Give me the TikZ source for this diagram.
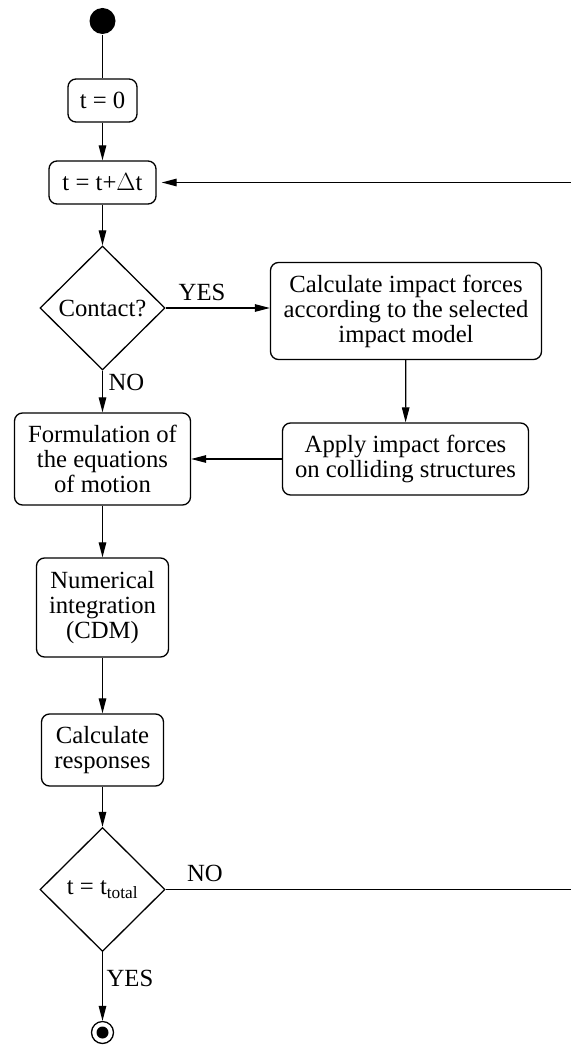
\documentclass[tikz,border=0pt]{standalone}
\usepackage{fontspec}
\setmainfont{Liberation Serif}
\usetikzlibrary{shapes.geometric,arrows.meta}
\begin{document}
\begin{tikzpicture}[x=1pt,y=-1pt,
  font=\fontsize{24.7}{25}\selectfont,
  >={Triangle[length=15pt,width=7.5pt]},
  line width=1.25pt,
  box/.style={draw,rounded corners=8pt,align=center,inner sep=0pt,line width=1.3pt},
  dec/.style={draw,diamond,aspect=1,inner sep=0pt,line width=1.3pt},
  lab/.style={inner sep=0pt},
  flow/.style={->}]
\useasboundingbox (0,0) rectangle (570,1048);
\node[circle,fill=black,minimum size=26pt,inner sep=0pt] (start) at (102.5,21) {};
\node[box,minimum width=69pt,minimum height=43pt] (t0) at (102.5,100.5) {t = 0};
\node[box,minimum width=107pt,minimum height=43pt] (tdt) at (102.5,182.5) {t = t+$\Delta$t};
\node[dec,minimum width=125pt,minimum height=124pt] (contact) at (102.5,308) {Contact?};
\node[box,minimum width=271pt,minimum height=97pt] (calc) at (406,311) {Calculate impact forces\\according to the selected\\impact model};
\node[box,minimum width=246pt,minimum height=72pt] (apply) at (405.5,459) {Apply impact forces\\on colliding structures};
\node[box,minimum width=176pt,minimum height=92pt] (form) at (102.5,459) {Formulation of\\the equations\\of motion};
\node[box,minimum width=132pt,minimum height=99pt] (num) at (102.5,607.5) {Numerical\\integration\\(CDM)};
\node[box,minimum width=122pt,minimum height=72pt] (resp) at (102.5,750) {Calculate\\responses};
\node[dec,minimum width=125pt,minimum height=124pt] (ttot) at (102.5,889.5) {t = t\textsubscript{total}};
\node[circle,draw,line width=1.3pt,minimum size=22pt,inner sep=0pt] (endo) at (102.5,1032.5) {};
\node[circle,fill=black,minimum size=12pt,inner sep=0pt] (endi) at (102.5,1032.5) {};
\coordinate (loopb) at (573,889.5);
% labels
\node[lab] (yes1) at (202,292) {YES};
\node[lab,anchor=west] (no1) at (108,382) {NO};
\node[lab] (no2) at (205,873) {NO};
\node[lab,anchor=west] (yes2) at (106,978) {YES};
% connectors
\draw (start) -- (t0);
\draw[flow] (t0) -- (tdt);
\draw[flow] (tdt) -- (contact);
\draw[flow] (contact.east) -- (contact.east -| calc.west);
\draw[flow] (contact) -- (form);
\draw[flow] (calc) -- (apply);
\draw[flow] (apply) -- (form);
\draw[flow] (form) -- (num);
\draw[flow] (num) -- (resp);
\draw[flow] (resp) -- (ttot);
\draw[flow] (ttot) -- (endo);
\draw[flow,shorten >=5pt] (ttot.east) -- (loopb) |- (tdt.east);
\end{tikzpicture}
\end{document}
